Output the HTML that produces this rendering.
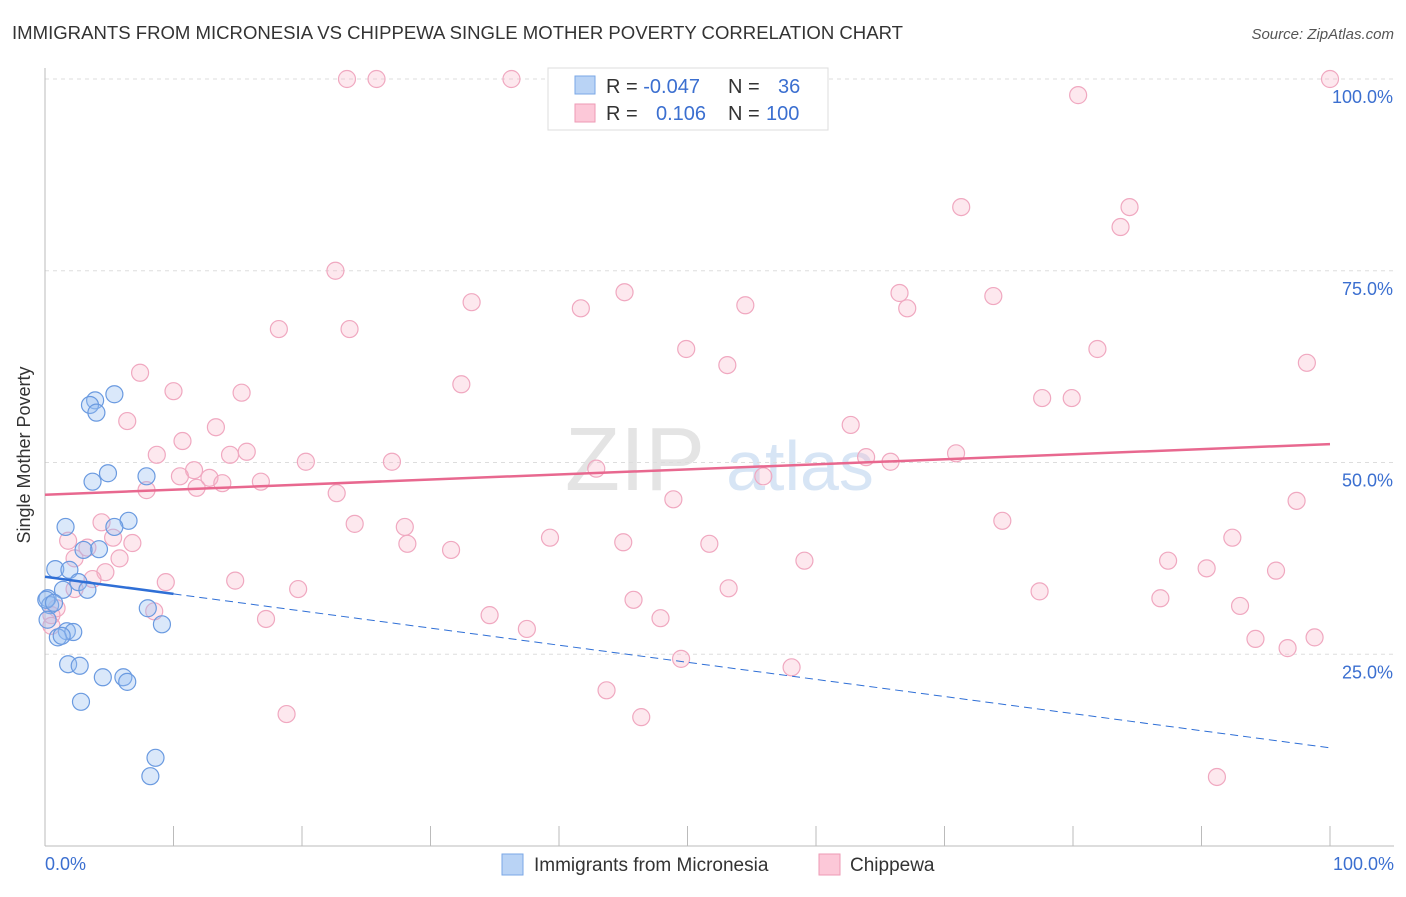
<!DOCTYPE html>
<html><head><meta charset="utf-8"><style>
body{margin:0;background:#fff;font-family:"Liberation Sans",sans-serif}
svg text{font-family:"Liberation Sans",sans-serif}
</style></head><body>
<svg id="chart" width="1406" height="892" xmlns="http://www.w3.org/2000/svg">
<text x="12" y="39" font-size="18" fill="#333" textLength="891" lengthAdjust="spacingAndGlyphs">IMMIGRANTS FROM MICRONESIA VS CHIPPEWA SINGLE MOTHER POVERTY CORRELATION CHART</text>
<text x="1394" y="39" font-size="15" fill="#555" font-style="italic" text-anchor="end">Source: ZipAtlas.com</text>
<text x="635" y="490" font-size="90" fill="#e4e4e4" font-family="Liberation Serif" text-anchor="middle">ZIP</text>
<text x="800" y="490" font-size="70" fill="#d7e5f5" text-anchor="middle">atlas</text>
<g id="grid"></g><g id="axes"></g><g id="pts"></g><g id="lines"></g>
<text transform="translate(30,455) rotate(-90)" font-size="18" fill="#333" text-anchor="middle">Single Mother Poverty</text>
<g>
<rect x="548" y="68" width="280" height="62" fill="#fff" stroke="#ddd"/>
<rect x="575" y="76" width="20" height="18" fill="#b9d3f5" stroke="#7aa7e6"/>
<rect x="575" y="104" width="20" height="18" fill="#fcc8d8" stroke="#ee9ab5"/>
<text x="606" y="93" font-size="20" fill="#333">R = <tspan fill="#3b6fd0">-0.047</tspan><tspan x="728">N = </tspan><tspan x="778" fill="#3b6fd0">36</tspan></text>
<text x="606" y="120" font-size="20" fill="#333">R = <tspan x="656" fill="#3b6fd0">0.106</tspan><tspan x="728">N = </tspan><tspan x="766" fill="#3b6fd0">100</tspan></text>
</g>
<g>
<rect x="502" y="854" width="21" height="21" fill="#b9d3f5" stroke="#7aa7e6"/>
<text x="534" y="871" font-size="19" fill="#333">Immigrants from Micronesia</text>
<rect x="819" y="854" width="21" height="21" fill="#fcc8d8" stroke="#ee9ab5"/>
<text x="850" y="871" font-size="19" fill="#333">Chippewa</text>
</g>
</svg>
<script>
const yTicks=[25,50,75,100];
const yTickLabels=["25.0%","50.0%","75.0%","100.0%"];
const xTickLabels=["0.0%","100.0%"];
const blueX=[5.4,3.9,3.5,4,4.9,7.9,3.7,1.6,6.5,5.4,4.2,3,0.8,1.9,1.4,2.6,3.3,0.2,0.4,8,9.1,1.7,2.2,1,1.3,1.8,2.7,4.5,6.1,6.4,2.8,8.6,8.2,0.1,0.7,0.2];
const blueY=[58.9,58.1,57.5,56.5,48.6,48.2,47.5,41.6,42.4,41.6,38.7,38.6,36.1,36,33.4,34.4,33.4,32.3,31.4,31,28.9,28,27.9,27.2,27.4,23.7,23.5,22,22,21.4,18.8,11.5,9.1,32.1,31.7,29.5];
const pinkX=[23.5,25.8,36.3,100,80.4,71.3,84.4,83.7,22.6,33.2,41.7,45.1,54.5,66.5,67.1,73.8,18.2,23.7,49.9,81.9,98.2,53.1,7.4,32.4,10,15.3,77.6,79.9,6.4,13.3,62.7,10.7,8.7,14.4,15.7,20.3,27,63.9,65.8,70.9,11.6,10.5,12.8,13.8,11.8,16.8,7.9,22.7,42.9,55.9,48.9,97.4,4.4,24.1,28,74.5,1.8,5.3,6.8,3.3,28.2,31.6,39.3,45,51.7,92.4,2.3,5.8,59.1,87.4,90.4,95.8,4.7,3.7,9.4,14.8,2.3,19.7,53.2,77.4,45.8,86.8,93,0.9,0.5,8.5,34.6,17.2,47.9,0.5,37.5,94.2,98.8,96.7,49.5,58.1,43.7,18.8,46.4,91.2];
const pinkY=[100,100,100,100,97.9,83.3,83.3,80.7,75,70.9,70.1,72.2,70.5,72.1,70.1,71.7,67.4,67.4,64.8,64.8,63,62.7,61.7,60.2,59.3,59.1,58.4,58.4,55.4,54.6,54.9,52.8,51,51,51.4,50.1,50.1,50.7,50.1,51.2,49,48.2,48,47.3,46.7,47.5,46.4,46,49.2,48.2,45.2,45,42.2,42,41.6,42.4,39.8,40.2,39.5,38.9,39.4,38.6,40.2,39.6,39.4,40.2,37.5,37.5,37.2,37.2,36.2,35.9,35.7,34.8,34.4,34.6,33.5,33.5,33.6,33.2,32.1,32.3,31.3,31,30.1,30.6,30.1,29.6,29.7,28.7,28.3,27,27.2,25.8,24.4,23.3,20.3,17.2,16.8,9];
const pinkTrend=[45.8,52.4];
const blueTrend=[35.1,12.8];
const blueSolidEnd=10;
const NS="http://www.w3.org/2000/svg";
const sx=v=>45+v*12.85, sy=v=>846-v*7.67;
function mk(tag,attrs,parent){const e=document.createElementNS(NS,tag);for(const k in attrs)e.setAttribute(k,attrs[k]);document.getElementById(parent).appendChild(e);return e;}
yTicks.forEach((t,i)=>{
 const g=mk('line',{x1:45,x2:1394,y1:sy(t),y2:sy(t),stroke:'#ddd','stroke-dasharray':'4,4'},'grid');
 
 
 const tx=mk('text',{x:1393,y:sy(t)+24,'font-size':18,fill:'#3b6fd0','text-anchor':'end'},'grid');
 tx.textContent=yTickLabels[i];
 
 
});
const ax=mk('line',{x1:45,x2:45,y1:68,y2:846,stroke:'#bbb'},'axes');


const bx=mk('line',{x1:45,x2:1394,y1:846,y2:846,stroke:'#bbb'},'axes');


for(let i=0;i<=10;i++){const t=mk('line',{x1:sx(i*10),x2:sx(i*10),y1:826,y2:846,stroke:'#bbb'},'axes');
 
 }
[[0,'start',45],[100,'end',1394]].forEach((d,i)=>{const t=mk('text',{x:d[2],y:870,'font-size':18,fill:'#3b6fd0','text-anchor':d[1]},'axes');t.textContent=xTickLabels[i];
 
 });
pinkX.forEach((x,i)=>{const c=mk('circle',{cx:sx(x),cy:sy(pinkY[i]),r:8.5,fill:'rgba(248,180,200,0.3)',stroke:'#f0a8c0','stroke-width':1.2},'pts');
 
 });
blueX.forEach((x,i)=>{const c=mk('circle',{cx:sx(x),cy:sy(blueY[i]),r:8.5,fill:'rgba(150,190,240,0.35)',stroke:'#6a9ae0','stroke-width':1.2},'pts');
 
 });
const pl=mk('line',{x1:sx(0),y1:sy(pinkTrend[0]),x2:sx(100),y2:sy(pinkTrend[1]),stroke:'#e8688f','stroke-width':2.5},'lines');


const bv=x=>blueTrend[0]+(blueTrend[1]-blueTrend[0])*x/100;
const bl=mk('line',{x1:sx(0),y1:sy(bv(0)),x2:sx(blueSolidEnd),y2:sy(bv(blueSolidEnd)),stroke:'#2f6fd6','stroke-width':2.5},'lines');


const bd=mk('line',{x1:sx(blueSolidEnd),y1:sy(bv(blueSolidEnd)),x2:sx(100),y2:sy(bv(100)),stroke:'#2f6fd6','stroke-width':1,'stroke-dasharray':'8,5'},'lines');


</script>
</body></html>
